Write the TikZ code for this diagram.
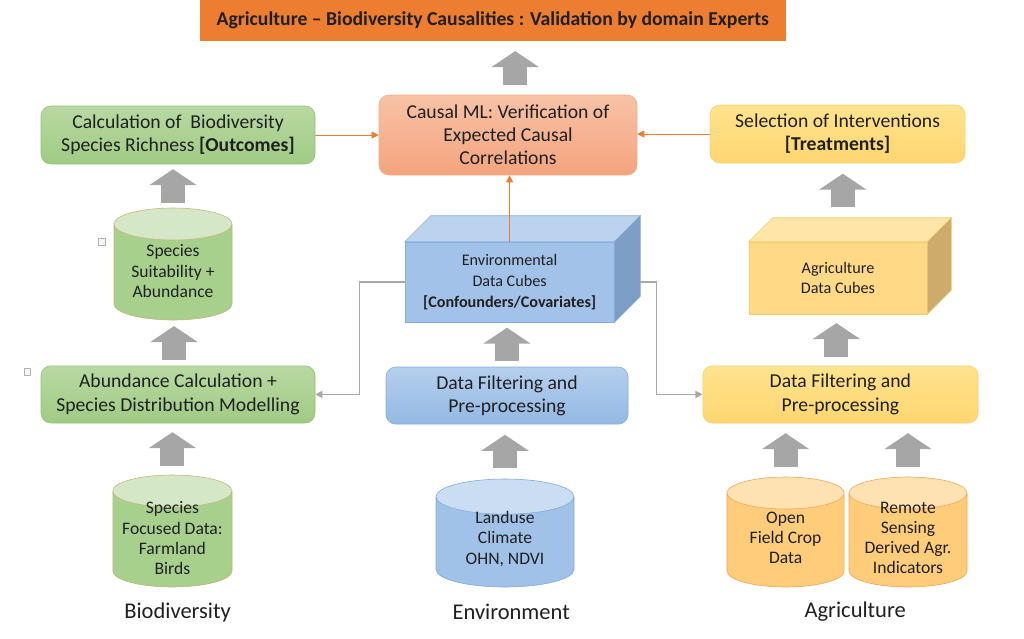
\documentclass[tikz,border=0pt]{standalone}
\usepackage{fontspec}
\setmainfont{Carlito}
\usetikzlibrary{shapes.geometric, arrows.meta, calc}

\definecolor{titleOrange}{HTML}{ED7D31}
\definecolor{textGray}{HTML}{202020}
\definecolor{arrowGray}{HTML}{A6A6A6}
\definecolor{lineGray}{HTML}{A8A8A8}
% box colours
\definecolor{greenTop}{HTML}{B8D9A2}
\definecolor{greenBot}{HTML}{A0CB84}
\definecolor{greenLine}{HTML}{93C078}
\definecolor{blueTop}{HTML}{B5CFEE}
\definecolor{blueBot}{HTML}{93B9E3}
\definecolor{blueLine}{HTML}{88AEDB}
\definecolor{yellowTop}{HTML}{FFE38E}
\definecolor{yellowBot}{HTML}{FFD670}
\definecolor{yellowLine}{HTML}{F6CC6A}
\definecolor{orangeTop}{HTML}{F8C2A6}
\definecolor{orangeBot}{HTML}{F4A47D}
\definecolor{orangeLine}{HTML}{F2AE88}
% cube faces
\definecolor{blueFace}{HTML}{A3C2E9}
\definecolor{blueTopFace}{HTML}{BCD3EF}
\definecolor{blueSide}{HTML}{7D9EC6}
\definecolor{yellowFace}{HTML}{FFD985}
\definecolor{yellowTopFace}{HTML}{FFE5A7}
\definecolor{yellowSide}{HTML}{CDAB6B}
% cylinders
\definecolor{greenBody}{HTML}{A8D08D}
\definecolor{greenEnd}{HTML}{D4E8C7}
\definecolor{greenRim}{HTML}{C6B27A}
\definecolor{blueBody}{HTML}{A0C1E8}
\definecolor{blueEnd}{HTML}{CBDDF3}
\definecolor{blueRim}{HTML}{7EA8D9}
\definecolor{yellowBody}{HTML}{FFCC7A}
\definecolor{yellowEnd}{HTML}{FFE2B2}
\definecolor{yellowRim}{HTML}{F2A252}

\begin{document}
\begin{tikzpicture}[
    box/.style={rectangle, rounded corners=7pt, draw=#1Line, top color=#1Top, bottom color=#1Bot, align=center, text=textGray, font=\fontsize{14}{16.5}\selectfont},
    store/.style={cylinder, shape border rotate=90, aspect=0.4, draw=#1Rim, cylinder uses custom fill, cylinder body fill=#1Body, cylinder end fill=#1End, inner sep=0pt, anchor=shape center},
    storetext/.style={align=center, text=textGray, font=\fontsize{12.5}{14.4}\selectfont, inner sep=0pt},
    cubefront/.style={rectangle, draw=#1Line, fill=#1Face, align=center, text=textGray, font=\fontsize{11.5}{14.8}\selectfont},
    blockarrow/.style={draw=arrowGray, line width=0.6cm, -{Triangle[width=1.17cm, length=0.4cm]}},
    causalline/.style={draw=titleOrange, line width=0.6pt, -{Triangle[width=5pt, length=5pt]}},
    feedline/.style={draw=lineGray, line width=0.8pt, -{Triangle[width=5pt, length=5pt]}},
    sectorlabel/.style={font=\fontsize{16}{18}\selectfont, text=textGray},
    markbox/.style={rectangle, draw=gray!60, fill=gray!8, minimum size=0.17cm, inner sep=0pt}
]
\useasboundingbox (0,0) rectangle (25.6,-15.95);

% Title
\node[rectangle, fill=titleOrange, minimum width=14.65cm, minimum height=1.02cm, font=\fontsize{14}{16}\selectfont\bfseries, text=textGray] (title) at (12.32,-0.51) {Agriculture -- Biodiversity Causalities : Validation by domain Experts};

% Top row
\node[box=orange, minimum width=6.45cm, minimum height=2.0cm] (causal) at (12.7,-3.375) {Causal ML: Verification of\\Expected Causal\\Correlations};
\node[box=green, minimum width=6.85cm, minimum height=1.45cm] (calc) at (4.45,-3.375) {Calculation of~ Biodiversity\\Species Richness \textbf{[Outcomes]}};
\node[box=yellow, minimum width=6.375cm, minimum height=1.45cm] (select) at (20.94,-3.35) {Selection of Interventions\\\textbf{[Treatments]}};

% Data cubes
\node[cubefront=blue, minimum width=5.225cm, minimum height=2.0cm] (envcube) at (12.74,-7.05) {Environmental\\Data Cubes\\\textbf{[Confounders/Covariates]}};
\fill[blueTopFace, draw=blueLine] (envcube.north west) -- ($(envcube.north west)+(0.65,0.65)$) -- ($(envcube.north east)+(0.65,0.65)$) -- (envcube.north east) -- cycle;
\fill[blueSide, draw=blueLine] (envcube.north east) -- ($(envcube.north east)+(0.65,0.65)$) -- ($(envcube.south east)+(0.65,0.65)$) -- (envcube.south east) -- cycle;
\coordinate (envside) at ($(envcube.east)+(0.65,0)$);

\node[cubefront=yellow, minimum width=4.45cm, minimum height=1.8cm] (agricube) at (20.95,-6.95) {Agriculture\\Data Cubes};
\fill[yellowTopFace, draw=yellowLine] (agricube.north west) -- ($(agricube.north west)+(0.6,0.6)$) -- ($(agricube.north east)+(0.6,0.6)$) -- (agricube.north east) -- cycle;
\fill[yellowSide, draw=yellowLine] (agricube.north east) -- ($(agricube.north east)+(0.6,0.6)$) -- ($(agricube.south east)+(0.6,0.6)$) -- (agricube.south east) -- cycle;

% Middle stores and processing
\node[store=green, minimum width=2.95cm, minimum height=2.8cm] (suit) at (4.325,-6.6) {\rule{2cm}{0pt}};
\node[storetext] (suittext) at ([yshift=-0.18cm]suit.shape center) {Species\\Suitability +\\Abundance};
\node[box=green, minimum width=6.85cm, minimum height=1.43cm] (abund) at (4.45,-9.86) {Abundance Calculation +\\Species Distribution Modelling};
\node[box=blue, minimum width=6.05cm, minimum height=1.43cm] (envfilt) at (12.675,-9.89) {Data Filtering and\\Pre-processing};
\node[box=yellow, minimum width=6.88cm, minimum height=1.43cm] (agrifilt) at (21.01,-9.86) {Data Filtering and\\Pre-processing};

% Data sources
\node[store=green, minimum width=2.98cm, minimum height=2.8cm] (species) at (4.31,-13.275) {\rule{2cm}{0pt}};
\node[storetext] (speciestext) at ([yshift=-0.18cm]species.shape center) {Species\\Focused Data:\\Farmland\\Birds};
\node[store=blue, minimum width=3.45cm, minimum height=2.7cm] (envdata) at (12.625,-13.325) {\rule{2.2cm}{0pt}};
\node[storetext] (envdatatext) at ([yshift=-0.15cm]envdata.shape center) {Landuse\\Climate\\OHN, NDVI};
\node[store=yellow, minimum width=2.93cm, minimum height=2.75cm] (crop) at (19.64,-13.3) {\rule{2cm}{0pt}};
\node[storetext] (croptext) at ([yshift=-0.15cm]crop.shape center) {Open\\Field Crop\\Data};
\node[store=yellow, minimum width=2.95cm, minimum height=2.75cm] (remote) at (22.7,-13.3) {\rule{2cm}{0pt}};
\node[storetext] (remotetext) at ([yshift=-0.15cm]remote.shape center) {Remote\\Sensing\\Derived Agr.\\Indicators};

% Sector labels
\node[sectorlabel] (biolabel) at (4.44,-15.3) {Biodiversity};
\node[sectorlabel] (envlabel) at (12.78,-15.3) {Environment};
\node[sectorlabel] (agrilabel) at (21.38,-15.3) {Agriculture};

% Small marks
\node[markbox] (mark1) at (2.55,-6.05) {};
\node[markbox] (mark2) at (0.68,-9.3) {};

% Block arrows
\draw[blockarrow] ($(causal.north)!0.5!(causal.north |- title.south)+(0.18,0)$) ++(0,-0.42) -- ++(0,0.84);
\draw[blockarrow] ($(suit.north)!0.5!(suit.north |- calc.south)$) ++(0,-0.42) -- ++(0,0.84);
\draw[blockarrow] ($(abund.north)!0.5!(abund.north |- suit.south)+(-0.1,0)$) ++(0,-0.42) -- ++(0,0.84);
\draw[blockarrow] ($(species.north)!0.5!(species.north |- abund.south)$) ++(0,-0.42) -- ++(0,0.84);
\draw[blockarrow] ($(envfilt.north)!0.5!(envfilt.north |- envcube.south)$) ++(0,-0.42) -- ++(0,0.84);
\draw[blockarrow] ($(envdata.north)!0.5!(envdata.north |- envfilt.south)$) ++(0,-0.42) -- ++(0,0.84);
\draw[blockarrow] ($(agricube.north)!0.5!(agricube.north |- select.south)+(0.12,0.3)$) ++(0,-0.42) -- ++(0,0.84);
\draw[blockarrow] ($(agrifilt.north)!0.5!(agrifilt.north |- agricube.south)+(-0.1,0)$) ++(0,-0.42) -- ++(0,0.84);
\draw[blockarrow] ($(crop.north)!0.5!(crop.north |- agrifilt.south)$) ++(0,-0.42) -- ++(0,0.84);
\draw[blockarrow] ($(remote.north)!0.5!(remote.north |- agrifilt.south)$) ++(0,-0.42) -- ++(0,0.84);

% Connectors
\draw[causalline] (calc.east) -- (calc.east -| causal.west);
\draw[causalline] (select.west) -- (select.west -| causal.east);
\draw[causalline] (envcube.north) -- (envcube.north |- causal.south);
\draw[feedline] (envcube.west) -- ++(-1.125,0) |- (abund.east);
\draw[feedline] (envside) -- ++(0.4,0) |- (agrifilt.west);

\end{tikzpicture}
\end{document}
